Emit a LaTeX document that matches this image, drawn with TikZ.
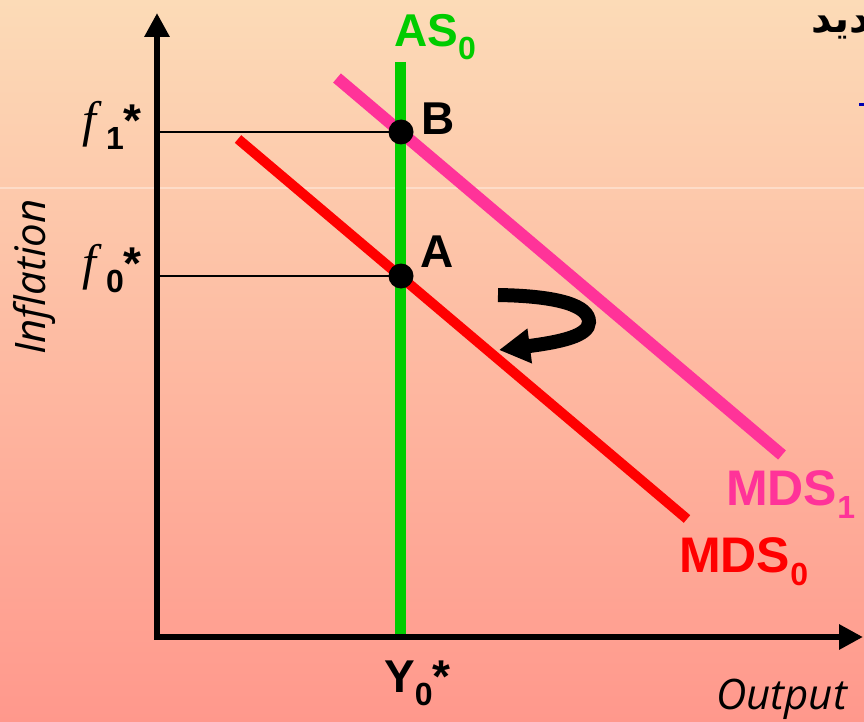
\documentclass[tikz,border=0pt]{standalone}
\usepackage{fontspec}
\setmainfont{Liberation Sans}
\newfontfamily\slantfont{Open Sans}
\newfontfamily\curlyf{Liberation Serif}
\newfontfamily\arabicfont[Script=Arabic]{DejaVu Sans}
\TeXXeTstate=1
\definecolor{bgtop}{RGB}{252,219,183}
\definecolor{bgmid}{RGB}{252,194,154}
\definecolor{bgbot}{RGB}{255,152,140}
\definecolor{asgreen}{RGB}{0,204,0}
\definecolor{mdspink}{RGB}{255,51,153}
\definecolor{mdsred}{RGB}{255,0,0}
\newcommand{\lowidx}[1]{\raisebox{-13pt}{\fontsize{32}{32}\selectfont #1}}
\newcommand{\inffvar}{{\curlyf\mdseries\itshape\fontsize{50}{50}\selectfont f}}
\usetikzlibrary{arrows.meta}

\begin{document}
\begin{tikzpicture}[x=1pt, y=-1pt,
  axis/.style={line width=6pt, {Triangle[length=24pt, width=24pt]}-{Triangle[length=24pt, width=24pt]}},
  guide/.style={line width=1.6pt},
  pt/.style={circle, fill=black, minimum size=25pt, inner sep=0pt},
  lab/.style={inner sep=0pt, anchor=base west, font=\fontsize{46}{46}\selectfont\bfseries},
  biglab/.style={lab, font=\fontsize{50}{50}\selectfont\bfseries},
  ax/.style={inner sep=0pt, font=\fontsize{42}{42}\selectfont\slantfont\itshape},
]

% Background
\useasboundingbox (0,0) rectangle (864,722);
\shade[top color=bgtop, middle color=bgmid, bottom color=bgbot] (0,0) rectangle (864,722);
\fill[white, opacity=0.35] (0,187) rectangle (864,189);

% Points
\coordinate (O) at (157,637);
\coordinate (ytop) at (157,13);
\coordinate (xend) at (863,637);
\coordinate (A) at (401,276);
\coordinate (B) at (401,132);

% Guide lines
\draw[guide] (160,132) -- (B);
\draw[guide] (160,276) -- (A);

% Curves
\draw[mdsred, line width=10pt] (238,139) -- (687,519);
\draw[mdspink, line width=12pt] (337,78) -- (782,455);
\draw[asgreen, line width=11pt] (400,62) -- (400,638);

% Axes
\draw[axis] (ytop) -- (O) -- (xend);

\node[pt] (ptA) at (A) {};
\node[pt] (ptB) at (B) {};

% Turn arrow
\coordinate (turnS) at (498,295);
\coordinate (turnE) at (499,350);
\draw[line width=14pt, -{Triangle[length=31pt, width=33pt]}]
  (turnS) .. controls (560,296) and (589,306) .. (589,322)
          .. controls (589,336) and (560,342) .. (turnE);

% Labels
\node[lab, text=asgreen] (as0) at (394,47) {AS\lowidx{0}};
\node[lab] (labB) at (421,135) {B};
\node[lab] (labA) at (420,267) {A};
\node[biglab, text=mdspink] (mds1) at (726,505) {MDS\lowidx{1}};
\node[biglab, text=mdsred] (mds0) at (679,572) {MDS\lowidx{0}};
\node[lab] (y0) at (384,692) {Y\lowidx{0}*};
\node[lab] (f1) at (82,137) {\inffvar\kern10pt\lowidx{1}*};
\node[lab] (f0) at (82,279) {\inffvar\kern10pt\lowidx{0}*};
\node[ax, rotate=90] (infl) at (34,277) {Inflation};
\node[ax, anchor=base west] (outp) at (716,709) {Output};
\node[inner sep=0pt, anchor=base west, font=\fontsize{40}{40}\selectfont\arabicfont\bfseries] (head) at (811,33) {\beginR جديد\endR};
\fill[blue!70!black] (859,103) rectangle (864,106);

\end{tikzpicture}
\end{document}
